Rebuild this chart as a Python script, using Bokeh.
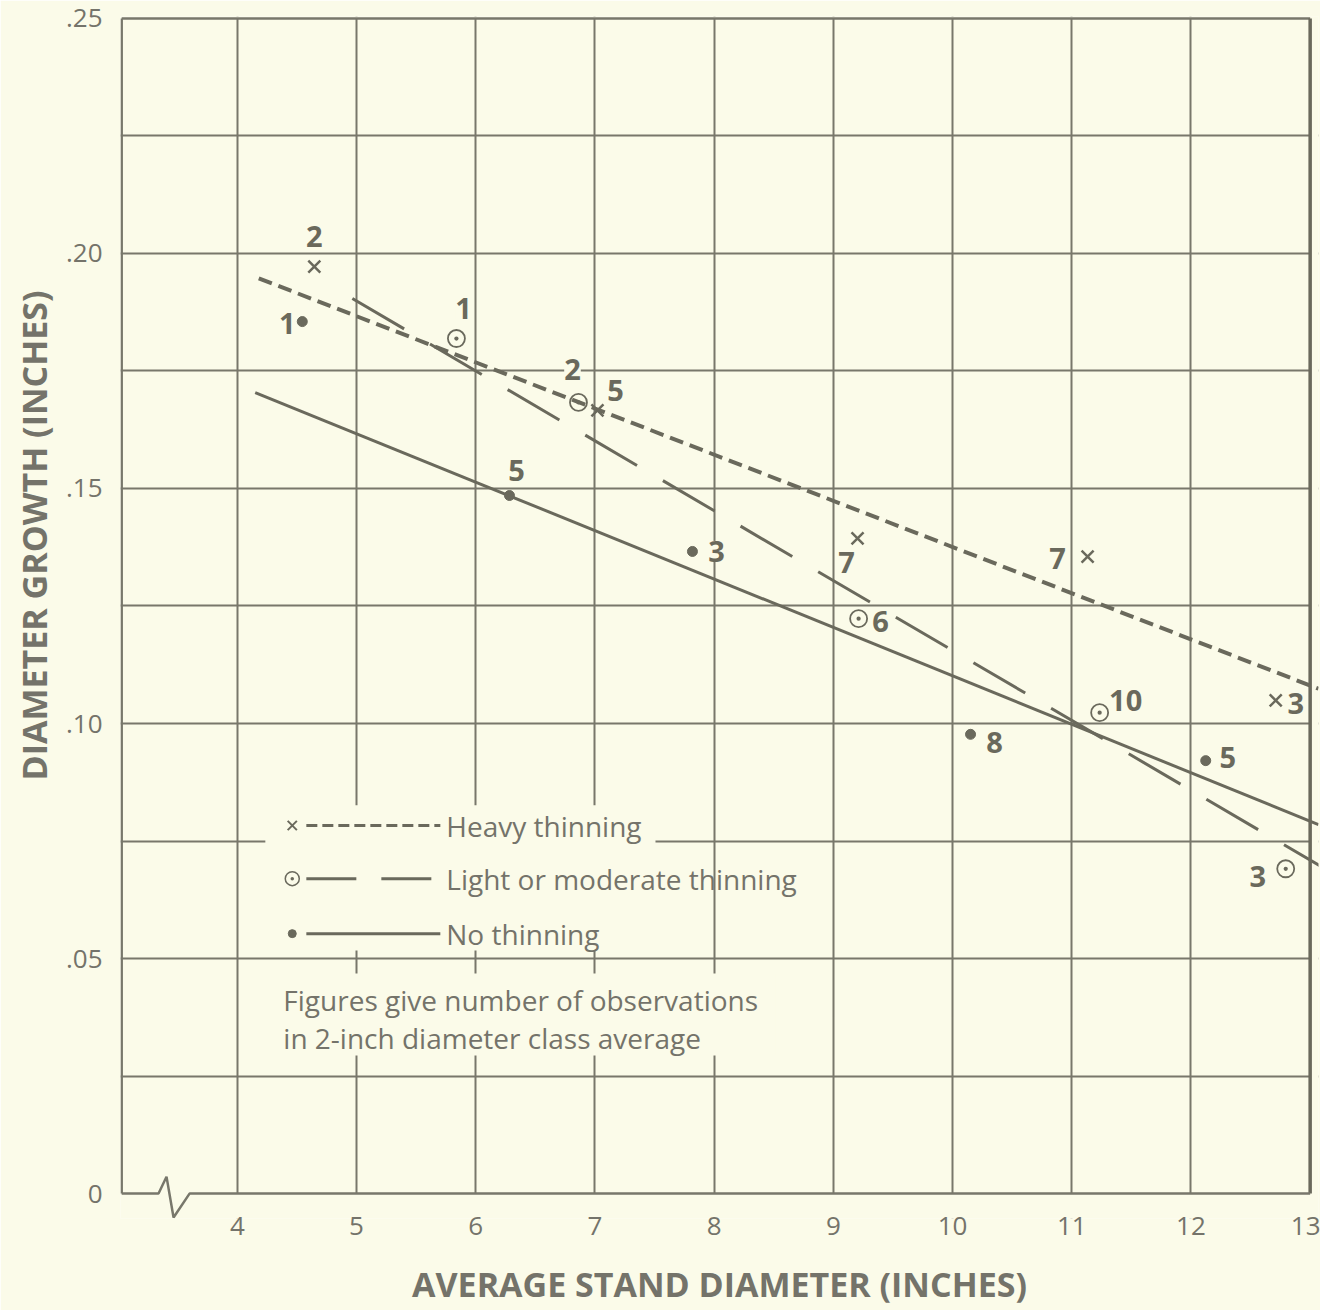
from bokeh.plotting import figure
from bokeh.models import Range1d, FixedTicker, Label, LabelSet, Title, ColumnDataSource
from bokeh.core.properties import value
from bokeh.embed import file_html
from bokeh.resources import INLINE

# ---------------- data ----------------
heavy_x = [4.646, 7.021, 9.203, 11.133, 12.711]
heavy_y = [0.1972, 0.1666, 0.1394, 0.1355, 0.1049]
heavy_n = ["2", "5", "7", "7", "3"]

light_x = [5.838, 6.862, 9.212, 11.234, 12.795]
light_y = [0.1819, 0.1683, 0.1223, 0.1023, 0.0691]
light_n = ["1", "2", "6", "10", "3"]

none_x = [4.545, 6.283, 7.818, 10.151, 12.124]
none_y = [0.1855, 0.1485, 0.1366, 0.0977, 0.0921]
none_n = ["1", "5", "3", "8", "5"]

heavy_fit_x = [4.18, 13.07]
heavy_fit_y = [0.1947, 0.1074]
light_fit_x = [4.965, 13.15]
light_fit_y = [0.1904, 0.0687]
none_fit_x = [4.15, 13.07]
none_fit_y = [0.1704, 0.0785]

x_ticks = [4, 5, 6, 7, 8, 9, 10, 11, 12, 13]
y_ticks = [0, 0.05, 0.10, 0.15, 0.20, 0.25]
y_tick_labels = ["0", ".05", ".10", ".15", ".20", ".25"]
x_grid = [4, 5, 6, 7, 8, 9, 10, 11, 12]
y_grid = [0.025, 0.05, 0.075, 0.10, 0.125, 0.15, 0.175, 0.20, 0.225]

series_names = ["Heavy thinning", "Light or moderate thinning", "No thinning"]
note_lines = ["Figures give number of observations", "in 2-inch diameter class average"]
x_title = "AVERAGE STAND DIAMETER (INCHES)"
y_title = "DIAMETER GROWTH (INCHES)"

# ---------------- style ----------------
BG = "#fbfbe9"
INK = "#6a695c"
GRID = "#78776b"
TXT = "#74736a"
FONT = "Open Sans"

XL, XR = 3.03, 13.0          # drawn frame edges
YB, YT = 0.0, 0.25
X0, X1 = 3.02, 13.07         # plotting ranges (a little wider for the break / overshoot)
Y0, Y1 = -0.0053, 0.2504

p = figure(width=1320, height=1310, x_range=Range1d(X0, X1), y_range=Range1d(Y0, Y1),
           output_backend="svg", toolbar_location=None,
           min_border_left=120, min_border_right=2, min_border_top=16, min_border_bottom=92)
p.background_fill_color = BG
p.border_fill_color = BG
p.outline_line_color = None

p.xgrid.ticker = FixedTicker(ticks=x_grid)
p.ygrid.ticker = FixedTicker(ticks=y_grid)
for g in (p.xgrid, p.ygrid):
    g.grid_line_color = GRID
    g.grid_line_width = 2
    g.grid_line_alpha = 1.0

for ax in (p.xaxis, p.yaxis):
    ax.axis_line_color = None
    ax.major_tick_line_color = None
    ax.minor_tick_line_color = None
    ax.major_label_text_font = FONT
    ax.major_label_text_color = TXT

p.xaxis.ticker = FixedTicker(ticks=x_ticks)
p.xaxis.major_label_text_font_size = "26px"
p.xaxis.major_label_standoff = -8
p.xaxis.axis_label = x_title
p.xaxis.axis_label_text_font = FONT
p.xaxis.axis_label_text_font_style = "bold"
p.xaxis.axis_label_text_font_size = "34px"
p.xaxis.axis_label_text_color = TXT
p.xaxis.axis_label_standoff = 23

p.yaxis.ticker = FixedTicker(ticks=y_ticks)
p.yaxis.major_label_overrides = {t: l for t, l in zip(y_ticks, y_tick_labels)}
p.yaxis.major_label_text_font_size = "26px"
p.yaxis.major_label_standoff = 12

p.add_layout(Title(text=y_title, align="right", offset=274, text_font=FONT,
                   text_font_style="bold", text_font_size="34px", text_color=TXT,
                   standoff=12), "left")

# masks: legend box, note box, strips outside the drawn frame
p.quad(left=[4.235, 4.109, X0, XR, X0], right=[7.508, 8.515, X1, X1, X1],
       bottom=[0.0517, 0.0294, Y0, Y0, YT], top=[0.0826, 0.0468, YB, Y1, Y1],
       fill_color=BG, line_color=None)

# frame edges with axis break on the bottom
p.line([XL, XR], [YT, YT], line_color=GRID, line_width=2.5)
p.line([XL, XL], [YB, YT], line_color=GRID, line_width=2.5)
p.line([XR, XR], [YB, YT], line_color=INK, line_width=3.5)
p.line([XL, 3.339, 3.406, 3.465, 3.599, XR], [0, 0, 0.0036, -0.0051, 0, 0],
       line_color=GRID, line_width=2.5)

# fitted lines
p.line(heavy_fit_x, heavy_fit_y, line_color=INK, line_width=4, line_dash="14 7")
p.line(light_fit_x, light_fit_y, line_color=INK, line_width=3, line_dash="60 30")
p.line(none_fit_x, none_fit_y, line_color=INK, line_width=3)

# points
p.scatter(heavy_x, heavy_y, marker="x", size=17, line_color=INK, line_width=2.5)
p.scatter(light_x, light_y, marker="circle_dot", size=17, line_color=INK, line_width=1.8,
          fill_color=None)
p.scatter(none_x, none_y, marker="circle", size=10, line_color=INK, fill_color=INK)

# count labels (offsets: px right, px up)
heavy_off = [(0, 30), (18, 20), (-11, -24), (-30, -2), (20, -3)]
light_off = [(7, 30), (-6, 33), (22, -3), (26, 12), (-28, -8)]
none_off = [(-15, -2), (7, 25), (24, 0), (24, -8), (22, 3)]


def add_counts(xs, ys, ns, offs):
    src = ColumnDataSource(dict(x=xs, y=ys, t=ns, dx=[o[0] for o in offs], dy=[o[1] for o in offs]))
    p.add_layout(LabelSet(x="x", y="y", text="t", source=src, x_offset="dx", y_offset="dy",
                          text_align="center", text_baseline="middle",
                          text_font=value(FONT), text_font_style="bold", text_font_size="29px",
                          text_color=INK, background_fill_color=BG))


add_counts(heavy_x, heavy_y, heavy_n, heavy_off)
add_counts(light_x, light_y, light_n, light_off)
add_counts(none_x, none_y, none_n, none_off)

# legend
leg_y = [0.0783, 0.0670, 0.0553]
mk_x, ln_x0, ln_x1, tx_x = 4.461, 4.579, 5.703, 5.753
p.scatter([mk_x], [leg_y[0]], marker="x", size=13, line_color=INK, line_width=2)
p.line([ln_x0, ln_x1], [leg_y[0]] * 2, line_color=INK, line_width=3, line_dash="11 5")
p.scatter([mk_x], [leg_y[1]], marker="circle_dot", size=14, line_color=INK, line_width=1.5,
          fill_color=None)
p.line([ln_x0, ln_x1], [leg_y[1]] * 2, line_color=INK, line_width=3, line_dash="50 25")
p.scatter([mk_x], [leg_y[2]], marker="circle", size=8, line_color=INK, fill_color=INK)
p.line([ln_x0, ln_x1], [leg_y[2]] * 2, line_color=INK, line_width=3)
for name, yy in zip(series_names, leg_y):
    p.add_layout(Label(x=tx_x, y=yy, text=name, text_font=FONT, text_font_size="28px",
                       text_color=TXT, text_baseline="middle", text_align="left"))
note_y = [0.0411, 0.0332]
for line, yy in zip(note_lines, note_y):
    p.add_layout(Label(x=4.386, y=yy, text=line, text_font=FONT, text_font_size="28px",
                       text_color=TXT, text_baseline="middle", text_align="left"))

open("out.html", "w").write(file_html(p, INLINE))
